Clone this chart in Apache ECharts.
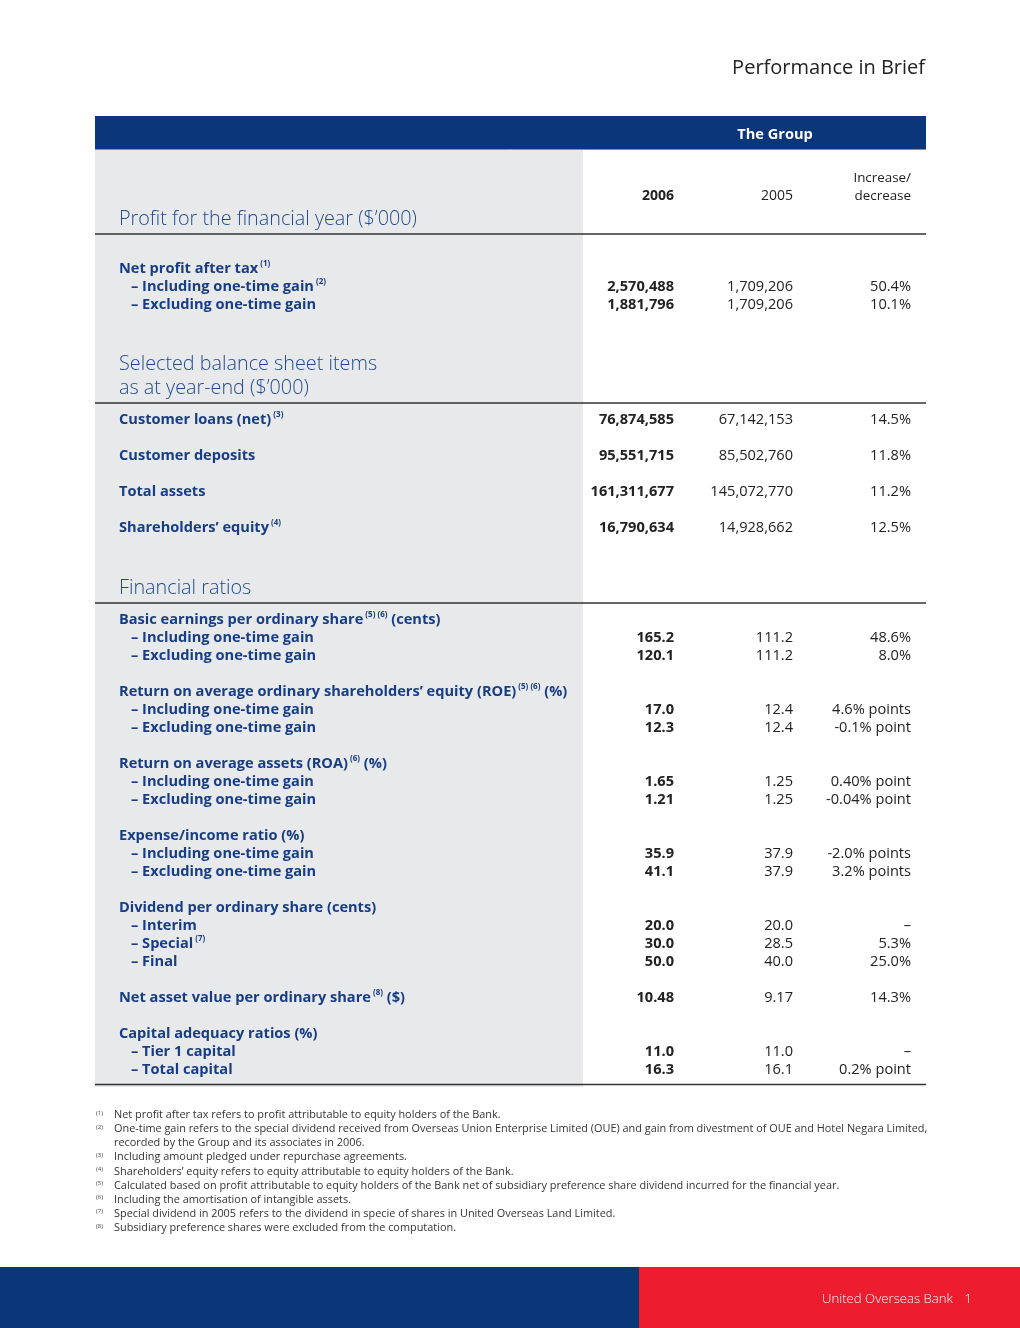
<!DOCTYPE html>
<html>
<head>
<meta charset="utf-8">
<title>Performance in Brief</title>
<script src="https://cdn.jsdelivr.net/npm/echarts@6/dist/echarts.min.js"></script>
<style>
  html, body { margin: 0; padding: 0; background: #fff; }
  #main { width: 1020px; height: 1328px; }
</style>
</head>
<body>
<div id="main"></div>
<script>
// ---- data ----
const pageTitle = 'Performance in Brief';
const groupHeader = 'The Group';
const yearHeaders = ['2006', '2005'];
const changeHeader = ['Increase/', 'decrease'];

const profitTitle = ['Profit for the financial year ($\u2019000)'];
const profitGroups = [
  { title: 'Net profit after tax', note: '(1)', unit: '',
    subs: [['Including one-time gain', '(2)'], ['Excluding one-time gain', '']] }
];
const profit2006 = [['2,570,488', '1,881,796']];
const profit2005 = [['1,709,206', '1,709,206']];
const profitChange = [['50.4%', '10.1%']];

const balanceTitle = ['Selected balance sheet items', 'as at year-end ($\u2019000)'];
const balanceLabels = ['Customer loans (net)', 'Customer deposits', 'Total assets', 'Shareholders\u2019 equity'];
const balanceNotes = ['(3)', '', '', '(4)'];
const balance2006 = ['76,874,585', '95,551,715', '161,311,677', '16,790,634'];
const balance2005 = ['67,142,153', '85,502,760', '145,072,770', '14,928,662'];
const balanceChange = ['14.5%', '11.8%', '11.2%', '12.5%'];

const ratioTitle = ['Financial ratios'];
const ratioGroups = [
  { title: 'Basic earnings per ordinary share', note: '(5) (6)', unit: '(cents)',
    subs: [['Including one-time gain', ''], ['Excluding one-time gain', '']] },
  { title: 'Return on average ordinary shareholders\u2019 equity (ROE)', note: '(5) (6)', unit: '(%)',
    subs: [['Including one-time gain', ''], ['Excluding one-time gain', '']] },
  { title: 'Return on average assets (ROA)', note: '(6)', unit: '(%)',
    subs: [['Including one-time gain', ''], ['Excluding one-time gain', '']] },
  { title: 'Expense/income ratio (%)', note: '', unit: '',
    subs: [['Including one-time gain', ''], ['Excluding one-time gain', '']] },
  { title: 'Dividend per ordinary share (cents)', note: '', unit: '',
    subs: [['Interim', ''], ['Special', '(7)'], ['Final', '']] },
  { title: 'Net asset value per ordinary share', note: '(8)', unit: '($)', subs: [] },
  { title: 'Capital adequacy ratios (%)', note: '', unit: '',
    subs: [['Tier 1 capital', ''], ['Total capital', '']] }
];
const ratio2006 = [['165.2', '120.1'], ['17.0', '12.3'], ['1.65', '1.21'], ['35.9', '41.1'],
  ['20.0', '30.0', '50.0'], ['10.48'], ['11.0', '16.3']];
const ratio2005 = [['111.2', '111.2'], ['12.4', '12.4'], ['1.25', '1.25'], ['37.9', '37.9'],
  ['20.0', '28.5', '40.0'], ['9.17'], ['11.0', '16.1']];
const ratioChange = [['48.6%', '8.0%'], ['4.6% points', '-0.1% point'], ['0.40% point', '-0.04% point'],
  ['-2.0% points', '3.2% points'], ['\u2013', '5.3%', '25.0%'], ['14.3%'], ['\u2013', '0.2% point']];

const footnoteMarks = ['(1)', '(2)', '', '(3)', '(4)', '(5)', '(6)', '(7)', '(8)'];
const footnotes = [
  'Net profit after tax refers to profit attributable to equity holders of the Bank.',
  'One-time gain refers to the special dividend received from Overseas Union Enterprise Limited (OUE) and gain from divestment of OUE and Hotel Negara Limited,',
  'recorded by the Group and its associates in 2006.',
  'Including amount pledged under repurchase agreements.',
  'Shareholders\u2019 equity refers to equity attributable to equity holders of the Bank.',
  'Calculated based on profit attributable to equity holders of the Bank net of subsidiary preference share dividend incurred for the financial year.',
  'Including the amortisation of intangible assets.',
  'Special dividend in 2005 refers to the dividend in specie of shares in United Overseas Land Limited.',
  'Subsidiary preference shares were excluded from the computation.'
];
const footerText = 'United Overseas Bank';
const pageNumber = '1';

// ---- layout / style ----
const FONT = '"Open Sans", "Noto Sans", sans-serif';
const NAVY = '#0b377a';
const LABEL = '#173d84';
const INK = '#222';
const TABLE_L = 95, TABLE_R = 926, SHADE_R = 583;
const COLS = [674, 793, 911];
const LABEL_X = 119, SUB_X = 131;
const STEP = 18;
const DY = 2; // baseline nudge so text centres sit where the page has them
const NUM = '14.6px ' + FONT;

const rich = {
  b: { fontFamily: FONT, fontSize: 14.6, fontWeight: 'bold', fill: LABEL, lineHeight: 18 },
  s: { fontFamily: FONT, fontSize: 8, fontWeight: 'bold', fill: LABEL, lineHeight: 9, verticalAlign: 'top' }
};

const els = [];

function text(x, y, str, font, fill, align) {
  els.push({
    type: 'text', x: x, y: y + DY, silent: true,
    style: { text: str, font: font, fill: fill, align: align || 'left', textAlign: align || 'left',
      verticalAlign: 'middle', textVerticalAlign: 'middle' }
  });
}
function richLabel(x, y, parts) {
  let s = '';
  parts.forEach(function (p) { if (p[1]) s += '{' + p[0] + '|' + p[1] + '}'; });
  els.push({
    type: 'text', x: x, y: y + DY, silent: true,
    style: { text: s, rich: rich, verticalAlign: 'middle', textVerticalAlign: 'middle' }
  });
}
function rule(y, color, w) {
  els.push({ type: 'line', silent: true, shape: { x1: TABLE_L, y1: y, x2: TABLE_R, y2: y },
    style: { stroke: color, lineWidth: w } });
}
function values(y, a, b, c) {
  text(COLS[0], y, a, 'bold ' + NUM, INK, 'right');
  text(COLS[1], y, b, NUM, INK, 'right');
  text(COLS[2], y, c, NUM, INK, 'right');
}
function sectionTitle(yFirst, lines) {
  lines.forEach(function (l, i) { text(LABEL_X, yFirst + i * 24, l, '300 19.8px ' + FONT, '#1f4a8e', 'left'); });
  return yFirst + (lines.length - 1) * 24 + 17;
}
function groupRows(y, groups, v6, v5, vc) {
  groups.forEach(function (g, gi) {
    const head = [['b', g.title], ['s', g.note ? ' ' + g.note : ''], ['b', g.unit ? ' ' + g.unit : '']];
    richLabel(LABEL_X, y, head);
    if (!g.subs.length) {
      values(y, v6[gi][0], v5[gi][0], vc[gi][0]);
    }
    g.subs.forEach(function (sub, si) {
      y += STEP;
      richLabel(SUB_X, y, [['b', '\u2013 ' + sub[0]], ['s', sub[1] ? ' ' + sub[1] : '']]);
      values(y, v6[gi][si], v5[gi][si], vc[gi][si]);
    });
    y += STEP * 2;
  });
  return y - STEP * 2;
}

// page background pieces
els.push({ type: 'rect', silent: true, shape: { x: TABLE_L, y: 149, width: SHADE_R - TABLE_L, height: 1087 - 149 },
  style: { fill: '#e8e9eb' } });
els.push({ type: 'rect', silent: true, shape: { x: TABLE_L, y: 116, width: TABLE_R - TABLE_L, height: 33 },
  style: { fill: NAVY } });
rule(149.5, '#8a8f99', 1);

text(925, 66, pageTitle, '20px ' + FONT, INK, 'right');
text(775, 133, groupHeader, 'bold 14.6px ' + FONT, '#fff', 'center');
text(COLS[0], 194, yearHeaders[0], 'bold 14px ' + FONT, INK, 'right');
text(COLS[1], 194, yearHeaders[1], '14px ' + FONT, INK, 'right');
text(COLS[2], 176, changeHeader[0], '13.4px ' + FONT, INK, 'right');
text(COLS[2], 194, changeHeader[1], '13.4px ' + FONT, INK, 'right');

// profit section
let ry = sectionTitle(217, profitTitle);
rule(ry, '#333', 1.5);
let last = groupRows(ry + 15 + STEP, profitGroups, profit2006, profit2005, profitChange);

// balance sheet section
ry = sectionTitle(last + 59, balanceTitle);
rule(ry, '#333', 1.5);
let y = ry + 15;
balanceLabels.forEach(function (l, i) {
  richLabel(LABEL_X, y, [['b', l], ['s', balanceNotes[i] ? ' ' + balanceNotes[i] : '']]);
  values(y, balance2006[i], balance2005[i], balanceChange[i]);
  last = y;
  y += STEP * 2;
});

// ratios section
ry = sectionTitle(last + 60, ratioTitle);
rule(ry, '#333', 1.5);
last = groupRows(ry + 15, ratioGroups, ratio2006, ratio2005, ratioChange);
rule(last + 16.5, '#333', 1.5);

// footnotes
footnotes.forEach(function (f, i) {
  const fy = 1113 + i * 14.1;
  if (footnoteMarks[i]) text(96, fy - 2, footnoteMarks[i], '6px ' + FONT, '#444', 'left');
  text(114, fy, f, '10.9px ' + FONT, '#333', 'left');
});

// footer band
els.push({ type: 'rect', silent: true, shape: { x: 0, y: 1267, width: 639, height: 61 }, style: { fill: NAVY } });
els.push({ type: 'rect', silent: true, shape: { x: 639, y: 1267, width: 381, height: 61 }, style: { fill: '#ed1c2e' } });
text(953, 1297, footerText, '300 13.2px ' + FONT, '#fff', 'right');
text(972, 1297, pageNumber, '300 13.2px ' + FONT, '#fff', 'right');

const myChart = echarts.init(document.getElementById('main'));
myChart.setOption({
  backgroundColor: '#fff',
  animation: false,
  graphic: { elements: els }
});
</script>
</body>
</html>
